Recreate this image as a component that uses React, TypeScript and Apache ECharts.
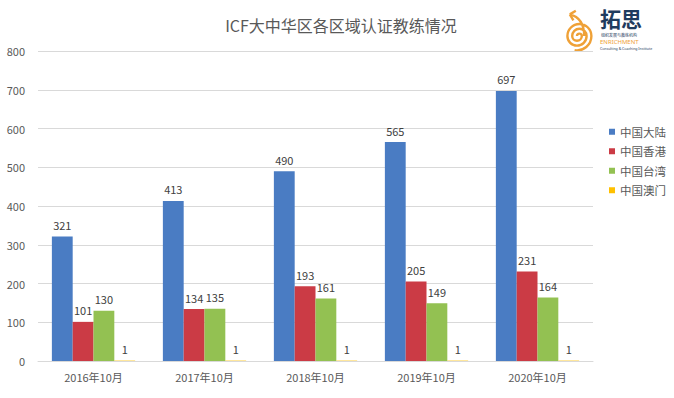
import React, { useEffect, useRef } from "react";
import * as echarts from "echarts";

const categories = ["2016年10月", "2017年10月", "2018年10月", "2019年10月", "2020年10月"];
const seriesNames = ["中国大陆", "中国香港", "中国台湾", "中国澳门"];
const mainland = [321, 413, 490, 565, 697];
const hongkong = [101, 134, 193, 205, 231];
const taiwan = [130, 135, 161, 149, 164];
const macau = [1, 1, 1, 1, 1];
const yTicks = { min: 0, max: 800, interval: 100 };
const colors = ["#4A7CC3", "#CB3B45", "#93C152", "#FFC000"];

let registered = false;
function registerLogo() {
  if (registered) return;
  registered = true;
  const spiral =
    "M0,0 a2,2 0 0,1 4,0 a4,4 0 0,1 -8,0 a6,6 0 0,1 12,0 a8,8 0 0,1 -16,0 a10,10 0 0,1 20,0 a12,12 0 0,1 -14,11.8 M6,0 C6,-10 2,-16 -6,-18 M-6,-18 L-1,-21 M-6,-18 L-3,-13";
  echarts.graphic.registerShape("logoSpiral", echarts.graphic.extendPath(spiral, {}) as any);
}

export default function App() {
  const ref = useRef<HTMLDivElement>(null);
  useEffect(() => {
    if (!ref.current) return;
    registerLogo();
    const chart = echarts.init(ref.current, null, { renderer: "svg" });
    const data = [mainland, hongkong, taiwan, macau];
    chart.setOption({
      animation: false,
      backgroundColor: "#ffffff",
      title: {
        text: "ICF大中华区各区域认证教练情况",
        left: 336,
        textAlign: "center",
        top: 12,
        textStyle: { fontSize: 16, fontWeight: "normal", color: "#595959", fontFamily: "Noto Sans CJK SC" },
      },
      legend: {
        orient: "vertical",
        left: 604,
        top: 121,
        itemWidth: 6,
        itemHeight: 6,
        itemGap: 8,
        icon: "rect",
        data: seriesNames,
        textStyle: { fontSize: 11.5, color: "#595959", fontFamily: "Noto Sans CJK SC" },
      },
      grid: { left: 38, right: 81, top: 51, bottom: 37, containLabel: false },
      xAxis: {
        type: "category",
        data: categories,
        axisTick: { show: false },
        axisLine: { lineStyle: { color: "#D9D9D9" } },
        axisLabel: { fontSize: 11, color: "#595959", margin: 10, fontFamily: "Noto Sans CJK SC" },
      },
      yAxis: {
        type: "value",
        min: yTicks.min,
        max: yTicks.max,
        interval: yTicks.interval,
        axisLine: { show: false },
        axisTick: { show: false },
        splitLine: { lineStyle: { color: "#D9D9D9" } },
        axisLabel: { fontSize: 11, color: "#595959", margin: 13, fontFamily: "Noto Sans CJK SC" },
      },
      series: seriesNames.map((name, i) => ({
        name,
        type: "bar",
        data: data[i],
        barGap: "0%",
        barCategoryGap: "25%",
        itemStyle: { color: colors[i] },
        label: {
          show: true,
          position: "top",
          distance: 6,
          fontSize: 11,
          color: "#404040",
          fontFamily: "Noto Sans CJK SC",
        },
      })),
      graphic: [
        {
          type: "logoSpiral",
          x: 577,
          y: 36,
          scaleX: 1.2,
          scaleY: 1.2,
          style: { stroke: "#EFA137", fill: null, lineWidth: 2 },
        },
        {
          type: "text",
          left: 600,
          top: 7,
          style: { text: "拓思", fontSize: 21, fontWeight: "bold", fill: "#1F3B5E", fontFamily: "Noto Sans CJK SC" },
        },
        {
          type: "text",
          left: 601,
          top: 33,
          style: { text: "组织发展与教练机构", fontSize: 4, fill: "#1F3B5E", fontFamily: "Noto Sans CJK SC" },
        },
        {
          type: "text",
          left: 600,
          top: 39,
          style: { text: "ENRICHMENT", fontSize: 6, fill: "#EFA137", fontFamily: "Noto Sans" },
        },
        {
          type: "text",
          left: 600,
          top: 46,
          style: { text: "Consulting & Coaching Institute", fontSize: 3.5, fill: "#1F3B5E", fontFamily: "Noto Sans" },
        },
      ],
    });
    return () => chart.dispose();
  }, []);
  return <div ref={ref} style={{ width: 674, height: 398, position: "absolute", left: 0, top: 0 }} />;
}
